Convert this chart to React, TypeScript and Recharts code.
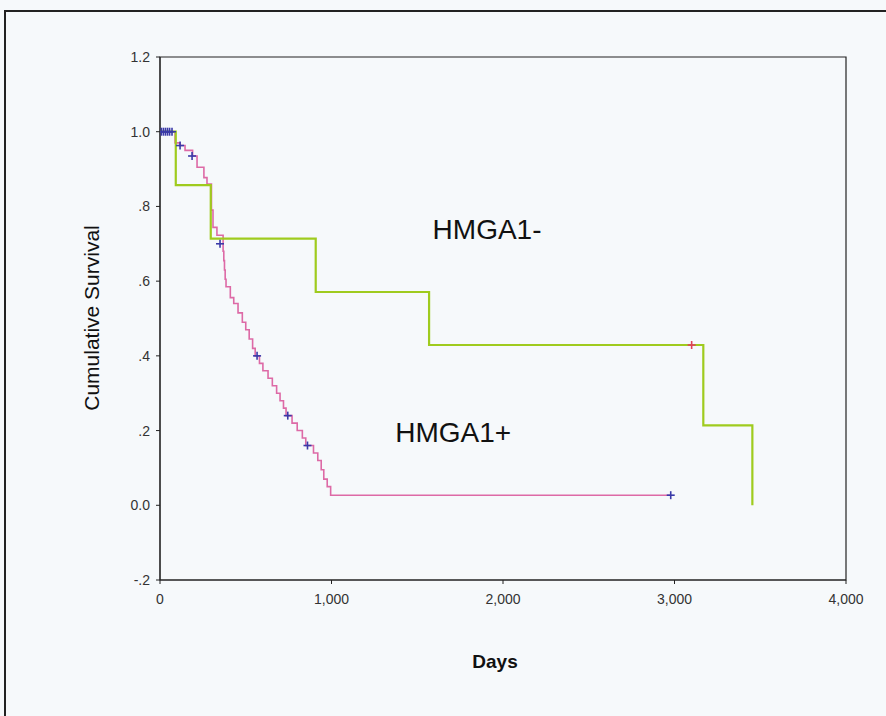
import React from "react";
import {
  ComposedChart,
  Line,
  Scatter,
  XAxis,
  YAxis,
  ReferenceArea,
  ReferenceDot,
} from "recharts";

// HMGA1- group (green)
const negDays = [0, 92, 296, 908, 1569, 3168, 3454];
const negSurv = [1.0, 0.857, 0.714, 0.571, 0.429, 0.214, 0.0];
const negCensorDays = [3100];
const negCensorSurv = [0.429];

// HMGA1+ group (pink)
const posDays = [
  0, 88, 117, 146, 190, 216, 256, 274, 300, 309, 332, 368, 372, 376, 380, 385,
  410, 430, 455, 480, 500, 520, 540, 555, 580, 600, 630, 655, 680, 700, 720,
  735, 770, 800, 830, 850, 895, 920, 940, 955, 975, 995, 2978,
];
const posSurv = [
  1.0, 0.97, 0.963, 0.95, 0.935, 0.905, 0.877, 0.86, 0.79, 0.744, 0.723, 0.68,
  0.655, 0.63, 0.605, 0.585, 0.556, 0.54, 0.515, 0.49, 0.47, 0.445, 0.42, 0.4,
  0.38, 0.36, 0.34, 0.32, 0.3, 0.28, 0.26, 0.24, 0.22, 0.2, 0.18, 0.16, 0.14,
  0.12, 0.095, 0.07, 0.05, 0.027, 0.027,
];
const posCensorDays = [8, 20, 32, 44, 56, 70, 117, 187, 350, 566, 745, 860, 2978];
const posCensorSurv = [1, 1, 1, 1, 1, 1, 0.963, 0.935, 0.7, 0.4, 0.24, 0.16, 0.027];

const xTicks = [0, 1000, 2000, 3000, 4000];
const yTicks = [-0.2, 0, 0.2, 0.4, 0.6, 0.8, 1.0, 1.2];

const negData = negDays.map((d, i) => ({ day: d, surv: negSurv[i] }));
const posData = posDays.map((d, i) => ({ day: d, surv: posSurv[i] }));
const negCensor = negCensorDays.map((d, i) => ({ day: d, surv: negCensorSurv[i] }));
const posCensor = posCensorDays.map((d, i) => ({ day: d, surv: posCensorSurv[i] }));

const fmtY = (v: number) => {
  const s = v.toFixed(1);
  if (s === "0.0" || s === "1.0" || s === "1.2") return s;
  return s.replace("0.", ".");
};

const fmtX = (v: number) => v.toLocaleString("en-US");

const plus = (color: string) => (props: any) => {
  const { cx, cy } = props;
  return (
    <g stroke={color} strokeWidth={1.6}>
      <line x1={cx - 4} y1={cy} x2={cx + 4} y2={cy} />
      <line x1={cx} y1={cy - 4} x2={cx} y2={cy + 4} />
    </g>
  );
};

const font = "Arial, 'Liberation Sans', sans-serif";

export default function App() {
  return (
    <div
      style={{
        position: "absolute",
        left: 0,
        top: 0,
        width: 886,
        height: 716,
        background: "#f6f9fb",
        overflow: "hidden",
        fontFamily: font,
      }}
    >
      <div
        style={{
          position: "absolute",
          left: 4,
          top: 10,
          width: 900,
          height: 720,
          border: "2px solid #222",
          boxSizing: "border-box",
        }}
      />
      <ComposedChart
        width={886}
        height={716}
        margin={{ top: 57, right: 40, left: 0, bottom: 106 }}
        style={{ position: "absolute", left: 0, top: 0 }}
      >
        <XAxis
          dataKey="day"
          type="number"
          domain={[0, 4000]}
          ticks={xTicks}
          tickFormatter={fmtX}
          height={30}
          stroke="#222"
          tickSize={4}
          tickMargin={10}
          tick={{ fill: "#333", fontSize: 14, fontFamily: font }}
          allowDataOverflow
        />
        <YAxis
          type="number"
          domain={[-0.2, 1.2]}
          ticks={yTicks}
          tickFormatter={fmtY}
          width={160}
          stroke="#222"
          tickSize={4}
          tickMargin={6}
          tick={{ fill: "#333", fontSize: 14, fontFamily: font }}
          allowDataOverflow
        />
        <ReferenceArea
          x1={0}
          x2={4000}
          y1={-0.2}
          y2={1.2}
          fill="none"
          stroke="#222"
          strokeWidth={1.2}
        />
        <Line
          data={posData}
          dataKey="surv"
          type="stepAfter"
          stroke="#dd6aa6"
          strokeWidth={1.6}
          dot={false}
          isAnimationActive={false}
        />
        <Line
          data={negData}
          dataKey="surv"
          type="stepAfter"
          stroke="#9fcb1e"
          strokeWidth={2.2}
          dot={false}
          isAnimationActive={false}
        />
        <Scatter
          data={posCensor}
          dataKey="surv"
          shape={plus("#3a3aa8")}
          isAnimationActive={false}
        />
        <Scatter
          data={negCensor}
          dataKey="surv"
          shape={plus("#e0405a")}
          isAnimationActive={false}
        />
        <ReferenceDot
          x={1907}
          y={0.74}
          r={0}
          label={{ value: "HMGA1-", fill: "#111", fontSize: 28, fontFamily: font }}
        />
        <ReferenceDot
          x={1710}
          y={0.195}
          r={0}
          label={{ value: "HMGA1+", fill: "#111", fontSize: 28, fontFamily: font }}
        />
      </ComposedChart>
      <div
        style={{
          position: "absolute",
          left: 92,
          top: 318,
          transform: "translate(-50%, -50%) rotate(-90deg)",
          fontSize: 21,
          color: "#111",
          whiteSpace: "nowrap",
        }}
      >
        Cumulative Survival
      </div>
      <div
        style={{
          position: "absolute",
          left: 495,
          top: 662,
          transform: "translate(-50%, -50%)",
          fontSize: 19,
          fontWeight: "bold",
          color: "#111",
        }}
      >
        Days
      </div>
    </div>
  );
}
